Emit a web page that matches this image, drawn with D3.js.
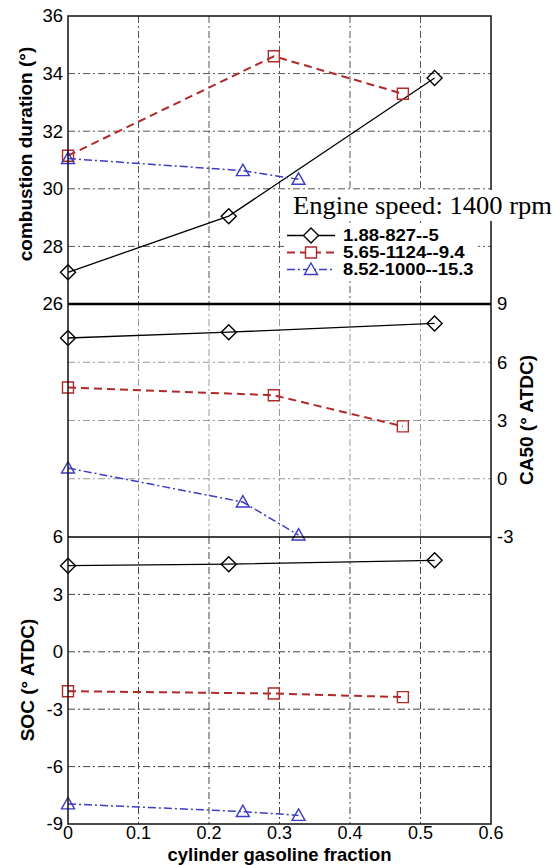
<!DOCTYPE html>
<html>
<head>
<meta charset="utf-8">
<script src="https://cdn.jsdelivr.net/npm/d3@7"></script>
<style>
  body { margin: 0; background: #fff; }
  text { font-family: Arial, "Liberation Sans", sans-serif; }
</style>
</head>
<body>
<div id="chart"></div>
<script>
// data
var xTicks = [0, 0.1, 0.2, 0.3, 0.4, 0.5, 0.6];
var seriesNames = ['1.88-827--5', '5.65-1124--9.4', '8.52-1000--15.3'];
var gasFraction = [
  [0, 0.228, 0.52],
  [0, 0.292, 0.475],
  [0, 0.248, 0.327]
];
var durationVals = [
  [27.1, 29.05, 33.85],
  [31.15, 34.6, 33.3],
  [31.05, 30.63, 30.33]
];
var ca50Vals = [
  [7.25, 7.55, 8.0],
  [4.7, 4.3, 2.7],
  [0.55, -1.2, -2.9]
];
var socVals = [
  [4.5, 4.58, 4.78],
  [-2.06, -2.18, -2.37],
  [-7.95, -8.35, -8.55]
];
var durationTicks = [26, 28, 30, 32, 34, 36];
var ca50Ticks = [-3, 0, 3, 6, 9];
var socTicks = [-9, -6, -3, 0, 3, 6];

var W = 559, H = 865;
var left = 68, right = 491;

var svg = d3.select('#chart').append('svg')
  .attr('width', W).attr('height', H);

var x = d3.scaleLinear().domain([0, 0.6]).range([left, right]);

// one entry per stacked panel
var panels = [
  { vals: durationVals, ticks: durationTicks, y: d3.scaleLinear().domain([26, 36]).range([304, 16]),
    side: 'left', grid: '#555', title: 'combustion duration (\u00B0)', titleX: 25, titleY: 154 },
  { vals: ca50Vals, ticks: ca50Ticks, y: d3.scaleLinear().domain([-3, 9]).range([537, 304]),
    side: 'right', grid: '#999', title: 'CA50 (\u00B0 ATDC)', titleX: 526, titleY: 420 },
  { vals: socVals, ticks: socTicks, y: d3.scaleLinear().domain([-9, 6]).range([824, 537]),
    side: 'left', grid: '#444', title: 'SOC (\u00B0 ATDC)', titleX: 27, titleY: 680 }
];

var styles = [
  { color: '#000', width: 1.3, dash: null, marker: 'diamond' },
  { color: '#b02a2a', width: 2, dash: '8,5', marker: 'square' },
  { color: '#3d3dc4', width: 1.5, dash: '8,3,2,3', marker: 'triangle' }
];

function markerPath(kind) {
  if (kind === 'diamond') return 'M0,-7.5L7.5,0L0,7.5L-7.5,0Z';
  if (kind === 'square') return 'M-5.5,-5.5H5.5V5.5H-5.5Z';
  return 'M0,-6.5L6.5,5L-6.5,5Z';
}

panels.forEach(function(p) {
  var g = svg.append('g');
  var y0 = p.y.range()[1], y1 = p.y.range()[0];

  // grid
  g.selectAll('.vgrid').data(xTicks.slice(1, -1)).enter().append('line')
    .attr('x1', function(d) { return x(d); }).attr('x2', function(d) { return x(d); })
    .attr('y1', y0).attr('y2', y1)
    .attr('stroke', p.grid).attr('stroke-width', 1).attr('stroke-dasharray', '7,3,2,3');
  g.selectAll('.hgrid').data(p.ticks.filter(function(t) {
      return t !== p.y.domain()[0] && t !== p.y.domain()[1];
    })).enter().append('line')
    .attr('x1', left).attr('x2', right)
    .attr('y1', function(d) { return p.y(d); }).attr('y2', function(d) { return p.y(d); })
    .attr('stroke', p.grid).attr('stroke-width', 1).attr('stroke-dasharray', '7,3,2,3');

  // tick labels
  var lab = g.selectAll('.tl').data(p.ticks).enter().append('text')
    .attr('y', function(d) { return p.y(d); })
    .attr('dy', '0.35em')
    .attr('font-size', 18.5)
    .text(function(d) { return d; });
  if (p.side === 'left') {
    lab.attr('x', left - 5).attr('text-anchor', 'end');
  } else {
    lab.attr('x', right + 6).attr('text-anchor', 'start');
  }

  // axis title
  svg.append('text')
    .attr('transform', 'translate(' + p.titleX + ',' + p.titleY + ') rotate(-90)')
    .attr('text-anchor', 'middle').attr('dy', '0.35em')
    .attr('font-size', 19).attr('font-weight', 'bold')
    .text(p.title);

  // series
  var line = d3.line()
    .x(function(d) { return x(d[0]); })
    .y(function(d) { return p.y(d[1]); });
  p.vals.forEach(function(vals, i) {
    var s = styles[i];
    var pts = vals.map(function(v, j) { return [gasFraction[i][j], v]; });
    g.append('path').datum(pts)
      .attr('d', line).attr('fill', 'none')
      .attr('stroke', s.color).attr('stroke-width', s.width)
      .attr('stroke-dasharray', s.dash);
    g.selectAll('.m' + i).data(pts).enter().append('path')
      .attr('transform', function(d) { return 'translate(' + x(d[0]) + ',' + p.y(d[1]) + ')'; })
      .attr('d', markerPath(s.marker))
      .attr('fill', 'none').attr('stroke', s.color).attr('stroke-width', 1.4);
  });
});

// frame
svg.append('rect').attr('x', left).attr('y', 16).attr('width', right - left).attr('height', 824 - 16)
  .attr('fill', 'none').attr('stroke', '#111').attr('stroke-width', 1.5);
svg.append('line').attr('x1', left).attr('x2', right).attr('y1', 304).attr('y2', 304)
  .attr('stroke', '#000').attr('stroke-width', 2.5);
svg.append('line').attr('x1', left).attr('x2', right).attr('y1', 537).attr('y2', 537)
  .attr('stroke', '#000').attr('stroke-width', 1.5);

// x axis labels
svg.selectAll('.xl').data(xTicks).enter().append('text')
  .attr('x', function(d) { return x(d); }).attr('y', 839)
  .attr('text-anchor', 'middle').attr('font-size', 18)
  .text(function(d) { return d; });
svg.append('text')
  .attr('x', (left + right) / 2).attr('y', 861)
  .attr('text-anchor', 'middle').attr('font-size', 18.5).attr('font-weight', 'bold')
  .text('cylinder gasoline fraction');

// legend
svg.append('rect').attr('x', 289).attr('y', 190).attr('width', 268).attr('height', 31).attr('fill', '#fff');
svg.append('text').attr('x', 293).attr('y', 214)
  .style('font-family', '"Liberation Serif", "Times New Roman", serif')
  .attr('font-size', 26)
  .attr('textLength', 259).attr('lengthAdjust', 'spacingAndGlyphs')
  .text('Engine speed: 1400 rpm');
svg.append('rect').attr('x', 284).attr('y', 224).attr('width', 194).attr('height', 54).attr('fill', '#fff');
var leg = svg.selectAll('.leg').data(seriesNames).enter().append('g')
  .attr('transform', function(d, i) { return 'translate(0,' + (235.5 + i * 17) + ')'; });
leg.append('line').attr('x1', 287).attr('x2', 335)
  .attr('stroke', function(d, i) { return styles[i].color; })
  .attr('stroke-width', function(d, i) { return styles[i].width; })
  .attr('stroke-dasharray', function(d, i) { return styles[i].dash; });
leg.append('path').attr('transform', 'translate(311,0)')
  .attr('d', function(d, i) { return markerPath(styles[i].marker); })
  .attr('fill', '#fff')
  .attr('stroke', function(d, i) { return styles[i].color; }).attr('stroke-width', 1.4);
leg.append('text').attr('x', 343).attr('dy', '0.36em')
  .attr('font-size', 16.5).attr('font-weight', 'bold')
  .attr('textLength', function(d) { return d.length * 8.7; }).attr('lengthAdjust', 'spacingAndGlyphs')
  .text(function(d) { return d; });
</script>
</body>
</html>
